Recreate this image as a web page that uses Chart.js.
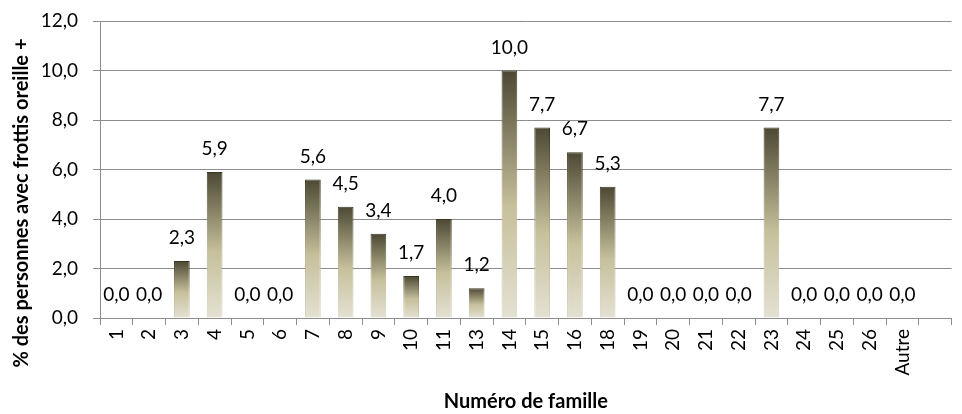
<!DOCTYPE html>
<html>
<head>
<meta charset="utf-8">
<script src="https://cdn.jsdelivr.net/npm/chart.js@4"></script>
<style>
html,body{margin:0;padding:0;background:#fff;}
#wrap{width:962px;height:414px;position:relative;}
</style>
</head>
<body>
<div id="wrap"><canvas id="c" width="962" height="414"></canvas></div>
<script>
const categories = ["1","2","3","4","5","6","7","8","9","10","11","13","14","15","16","18","19","20","21","22","23","24","25","26","Autre",""];
const values = [0.0,0.0,2.3,5.9,0.0,0.0,5.6,4.5,3.4,1.7,4.0,1.2,10.0,7.7,6.7,5.3,0.0,0.0,0.0,0.0,7.7,0.0,0.0,0.0,0.0,null];
const yTicks = [0,2,4,6,8,10,12];
const yTitle = "% des personnes avec frottis oreille +";
const xTitle = "Numéro de famille";

const FONT = "Lato, Carlito, 'Open Sans', sans-serif";
const fmt = v => v.toFixed(1).replace('.', ',');

function barGradient(ctx, dark) {
  const chart = ctx.chart;
  const area = chart.chartArea;
  if (!area) return dark ? '#3e3a28' : '#8a8566';
  const y = chart.scales.y;
  const v = ctx.raw;
  const bottom = y.getPixelForValue(0);
  const top = v == null ? bottom : y.getPixelForValue(v);
  if (bottom - top < 1) return dark ? '#d8d4c0' : '#e4e1d2';
  const g = chart.ctx.createLinearGradient(0, top, 0, bottom);
  if (dark) {
    g.addColorStop(0, '#38341f');
    g.addColorStop(0.55, '#b8b28c');
    g.addColorStop(1, '#d8d4c2');
  } else {
    g.addColorStop(0, '#4c4833');
    g.addColorStop(0.55, '#c6c09b');
    g.addColorStop(1, '#e4e1d3');
  }
  return g;
}

const valueLabels = {
  id: 'valueLabels',
  afterDatasetsDraw(chart) {
    const c = chart.ctx;
    const meta = chart.getDatasetMeta(0);
    c.save();
    c.font = "19px " + FONT;
    c.fillStyle = '#000';
    c.textAlign = 'center';
    c.textBaseline = 'middle';
    meta.data.forEach((el, i) => {
      const v = values[i];
      if (v == null) return;
      c.fillText(fmt(v), el.x, el.y - 23);
    });
    c.restore();
  }
};

const yTitlePlugin = {
  id: 'yTitlePlugin',
  afterDraw(chart) {
    const c = chart.ctx;
    c.save();
    c.translate(22, 203);
    c.rotate(-Math.PI / 2);
    c.font = "bold 20px " + FONT;
    c.fillStyle = '#000';
    c.textAlign = 'center';
    c.textBaseline = 'middle';
    c.fillText(yTitle, 0, 0);
    c.restore();
  }
};

new Chart(document.getElementById('c'), {
  type: 'bar',
  data: {
    labels: categories,
    datasets: [{
      data: values,
      backgroundColor: ctx => barGradient(ctx, false),
      borderColor: ctx => barGradient(ctx, true),
      borderWidth: 1,
      borderSkipped: 'start',
      categoryPercentage: 1.0,
      barPercentage: 0.48
    }]
  },
  options: {
    responsive: false,
    animation: false,
    events: [],
    layout: { padding: { top: 21, right: 0, bottom: 0, left: 0 } },
    plugins: { legend: { display: false }, tooltip: { enabled: false } },
    scales: {
      x: {
        offset: true,
        grid: { display: true, drawOnChartArea: false, drawTicks: true, tickLength: 7, offset: true, color: '#8c8c8c' },
        border: { display: true, color: '#8c8c8c' },
        ticks: { font: { family: FONT, size: 19 }, color: '#000', minRotation: 90, maxRotation: 90, autoSkip: false, padding: 4 },
        title: { display: true, text: xTitle, font: { family: FONT, size: 20, weight: 'bold' }, color: '#000', padding: { top: 0, bottom: 0 } },
        afterFit(scale) { scale.height = 96; }
      },
      y: {
        min: 0, max: 12,
        afterBuildTicks(scale) { scale.ticks = yTicks.map(v => ({ value: v })); },
        grid: { color: '#8c8c8c', tickLength: 7, drawTicks: true },
        border: { display: true, color: '#8c8c8c' },
        ticks: { font: { family: FONT, size: 19 }, color: '#000', padding: 15, callback: v => fmt(v) },
        afterFit(scale) { scale.width = 100; scale.paddingTop = 0; scale.paddingBottom = 0; }
      }
    }
  },
  plugins: [valueLabels, yTitlePlugin]
});
</script>
</body>
</html>
